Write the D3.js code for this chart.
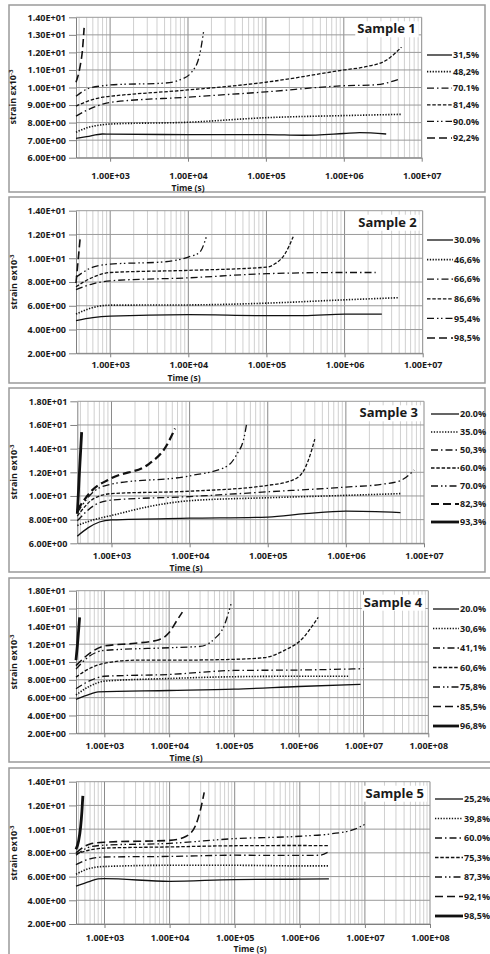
<!DOCTYPE html>
<html>
<head>
<meta charset="utf-8">
<script src="https://cdn.jsdelivr.net/npm/d3@7"></script>
<style>
  body { margin: 0; background: #fff; }
  text { font-family: "Open Sans", sans-serif; font-weight: 700; fill: #1a1a1a; }
</style>
</head>
<body>
<div id="chart"></div>
<script>
// ---- data: [time (s), strain x10^-3] ----
var xMin = 365;

var s1Labels = ["31,5%", "48,2%", "70.1%", "81,4%", "90.0%", "92,2%"];
var s1Series = [
    [[365, 7.10], [500, 7.2], [800, 7.35], [1000, 7.34], [1e4, 7.32], [1e5, 7.32], [3e5, 7.28], [1e6, 7.38], [1.6e6, 7.43], [3.5e6, 7.35]],
    [[365, 7.45], [500, 7.7], [800, 7.88], [1000, 7.92], [1e4, 8.02], [1e5, 8.28], [1e6, 8.4], [5.5e6, 8.47]],
    [[365, 8.37], [500, 8.7], [800, 9.05], [1000, 9.15], [1e4, 9.45], [1e5, 9.75], [1e6, 10.1], [2.5e6, 10.15], [5e6, 10.45]],
    [[365, 8.94], [500, 9.2], [800, 9.45], [1000, 9.5], [1e4, 9.86], [1e5, 10.3], [1e6, 11.0], [2e6, 11.2], [3.5e6, 11.55], [5.5e6, 12.3]],
    [[365, 9.5], [500, 9.9], [800, 10.1], [1000, 10.15], [5000, 10.25], [8000, 10.45], [1.1e4, 10.85], [1.4e4, 11.8], [1.6e4, 13.3]],
    [[365, 10.3], [412, 11.2], [441, 12.1], [464, 13.4]]
];
var s1YTicks = [6, 7, 8, 9, 10, 11, 12, 13, 14];
var s1XTicks = [1e3, 1e4, 1e5, 1e6, 1e7];

var s2Labels = ["30.0%", "46,6%", "66,6%", "86,6%", "95,4%", "98,5%"];
var s2Series = [
    [[365, 4.75], [600, 5.0], [1000, 5.12], [1e4, 5.25], [1e5, 5.17], [3e5, 5.17], [1e6, 5.3], [3e6, 5.3]],
    [[365, 5.3], [600, 5.85], [1000, 6.05], [1e4, 6.07], [1e5, 6.22], [1e6, 6.5], [5e6, 6.68]],
    [[365, 7.35], [600, 7.85], [1000, 8.1], [1e4, 8.35], [1e5, 8.7], [1e6, 8.8], [2.5e6, 8.8]],
    [[365, 7.6], [600, 8.4], [1000, 8.8], [1e4, 8.98], [1e5, 9.25], [1.3e5, 9.55], [1.7e5, 10.3], [2.2e5, 11.8]],
    [[365, 8.4], [600, 9.25], [1000, 9.5], [5000, 9.7], [1e4, 10.1], [1.4e4, 10.5], [1.7e4, 11.8]],
    [[365, 7.9], [392, 10.1], [414, 11.8]]
];
var s2YTicks = [2, 4, 6, 8, 10, 12, 14];
var s2XTicks = [1e3, 1e4, 1e5, 1e6, 1e7];

var s3Labels = ["20.0%", "35.0%", "50,3%", "60.0%", "70.0%", "82,3%", "93,3%"];
var s3Series = [
    [[365, 6.6], [500, 7.3], [700, 7.8], [1000, 7.98], [1e4, 8.12], [1e5, 8.22], [3e5, 8.5], [1e6, 8.72], [5e6, 8.6]],
    [[365, 7.5], [600, 8.0], [1000, 8.35], [3000, 9.1], [1e4, 9.6], [1e5, 9.85], [1e6, 10.05], [5e6, 10.2]],
    [[365, 7.9], [600, 9.2], [1000, 9.65], [1e4, 9.95], [1e5, 10.35], [1e6, 10.75], [3e6, 11.0], [5e6, 11.3], [7.5e6, 12.2]],
    [[365, 8.3], [600, 9.8], [1000, 10.2], [1e4, 10.4], [1e5, 10.9], [2e5, 11.3], [2.8e5, 12.0], [3.3e5, 13.0], [4e5, 14.8]],
    [[365, 8.6], [600, 10.4], [1000, 11.0], [1e4, 11.7], [3e4, 12.5], [4e4, 13.5], [5e4, 15.0], [5.4e4, 16.2]],
    [[365, 8.8], [550, 10.4], [1000, 11.5], [3000, 12.7], [5000, 14.2], [6500, 15.7]],
    [[365, 8.5], [372, 9.5], [385, 11.5], [400, 13.5], [415, 15.4]]
];
var s3YTicks = [6, 8, 10, 12, 14, 16, 18];
var s3XTicks = [1e3, 1e4, 1e5, 1e6, 1e7];

var s4Labels = ["20.0%", "30,6%", "41,1%", "60,6%", "75,8%", "85,5%", "96,8%"];
var s4Series = [
    [[365, 5.8], [600, 6.4], [800, 6.65], [1e4, 6.8], [1e5, 6.95], [1e6, 7.25], [9e6, 7.5]],
    [[365, 6.3], [600, 7.3], [1000, 7.85], [1e4, 8.15], [1e5, 8.35], [1e6, 8.4], [6e6, 8.4]],
    [[365, 7.0], [600, 7.9], [1000, 8.4], [1e4, 8.6], [1e5, 9.05], [1e6, 9.1], [1e7, 9.25]],
    [[365, 8.3], [600, 9.3], [1000, 9.85], [3000, 10.2], [1e4, 10.2], [1e5, 10.3], [3e5, 10.5], [6e5, 11.3], [1.2e6, 12.8], [1.6e6, 14.0], [2e6, 15.0]],
    [[365, 9.2], [600, 10.7], [1000, 11.3], [1e4, 11.6], [3e4, 11.75], [5e4, 12.6], [7e4, 14.0], [9e4, 16.5]],
    [[365, 9.6], [600, 11.0], [1000, 11.8], [3000, 12.1], [7000, 12.5], [1e4, 13.3], [1.3e4, 14.6], [1.6e4, 15.6]],
    [[365, 10.2], [385, 12.0], [400, 13.5], [415, 15.0]]
];
var s4YTicks = [2, 4, 6, 8, 10, 12, 14, 16, 18];
var s4XTicks = [1e3, 1e4, 1e5, 1e6, 1e7, 1e8];

var s5Labels = ["25,2%", "39,8%", "60.0%", "75,3%", "87,3%", "92,1%", "98,5%"];
var s5Series = [
    [[365, 5.2], [600, 5.6], [800, 5.8], [1000, 5.82], [1e4, 5.6], [1e5, 5.75], [1e6, 5.78], [2.8e6, 5.8]],
    [[365, 6.2], [600, 6.7], [1000, 6.85], [1e4, 6.95], [1e5, 6.95], [1e6, 6.9], [2.8e6, 6.9]],
    [[365, 7.0], [600, 7.5], [1000, 7.65], [1e4, 7.7], [1e5, 7.8], [1e6, 7.78], [2e6, 7.8], [2.8e6, 8.1]],
    [[365, 7.9], [600, 8.25], [1000, 8.4], [1e4, 8.5], [1e5, 8.6], [1e6, 8.62], [2.8e6, 8.6]],
    [[365, 7.8], [600, 8.5], [1000, 8.65], [1e4, 8.8], [1e5, 9.2], [1e6, 9.4], [3e6, 9.6], [7e6, 10.0], [1e7, 10.4]],
    [[365, 8.0], [600, 8.75], [1000, 8.9], [1e4, 9.05], [1.8e4, 9.4], [2.5e4, 10.3], [3e4, 11.7], [3.4e4, 13.1]],
    [[365, 8.3], [400, 9.0], [430, 10.2], [450, 11.5], [465, 12.8]]
];
var s5YTicks = [2, 4, 6, 8, 10, 12, 14];
var s5XTicks = [1e3, 1e4, 1e5, 1e6, 1e7, 1e8];

// line styles, same order in every panel
var lineStyles = [
    { dash: null, w: 1.3 },
    { dash: "1.3,1.5", w: 1.6 },
    { dash: "7,3,1.5,3", w: 1.3 },
    { dash: "3.5,1.8", w: 1.3 },
    { dash: "7,3,1.5,2.5,1.5,3", w: 1.3 },
    { dash: "8,4", w: 1.6 },
    { dash: null, w: 2.8 }
];

var svg = d3.select("#chart").append("svg")
    .attr("width", 490)
    .attr("height", 954);

// Excel-like scientific labels, e.g. 1.40E+01
function fmtE(v) {
    var e = Math.floor(Math.log10(v) + 1e-9);
    var m = v / Math.pow(10, e);
    return m.toFixed(2) + "E" + (e < 0 ? "-" : "+") + String(Math.abs(e)).padStart(2, "0");
}

function drawPanel(p, series, labels, yTicks, xTicks) {
    var x = d3.scaleLog().domain([xMin, p.xMax]).range([p.left, p.right]);
    var y = d3.scaleLinear().domain([yTicks[0], yTicks[yTicks.length - 1]]).range([p.bottom, p.top]);

    // frame
    svg.append("rect")
        .attr("x", 9).attr("y", p.y0)
        .attr("width", p.boxW).attr("height", p.y1 - p.y0)
        .attr("fill", "none").attr("stroke", "#9a9a9a").attr("stroke-width", 1.5);

    var g = svg.append("g");

    // minor vertical gridlines (2..9 of each decade)
    var minors = [];
    for (var d = 100; d < p.xMax; d *= 10) {
        for (var k = 2; k < 10; k++) {
            var v = k * d;
            if (v > xMin && v < p.xMax) minors.push(v);
        }
    }
    g.selectAll("line.minor").data(minors).enter().append("line")
        .attr("class", "minor")
        .attr("x1", d => x(d)).attr("x2", d => x(d))
        .attr("y1", p.top).attr("y2", p.bottom)
        .attr("stroke", "#c4c4c4").attr("stroke-width", 0.8);

    g.selectAll("line.majx").data(xTicks).enter().append("line")
        .attr("class", "majx")
        .attr("x1", d => x(d)).attr("x2", d => x(d))
        .attr("y1", p.top).attr("y2", p.bottom)
        .attr("stroke", "#8a8a8a").attr("stroke-width", 1);

    g.selectAll("line.majy").data(yTicks).enter().append("line")
        .attr("class", "majy")
        .attr("x1", p.left).attr("x2", p.right)
        .attr("y1", d => y(d)).attr("y2", d => y(d))
        .attr("stroke", "#9a9a9a").attr("stroke-width", 1);

    // axes
    var yAxis = g.append("g")
        .attr("transform", `translate(${p.left},0)`)
        .call(d3.axisLeft(y).tickValues(yTicks).tickFormat(fmtE).tickSize(7).tickSizeOuter(0).tickPadding(3));
    var xAxis = g.append("g")
        .attr("transform", `translate(0,${p.bottom})`)
        .call(d3.axisBottom(x).tickValues(xTicks).tickFormat(fmtE).tickSize(4).tickSizeOuter(0).tickPadding(p.xPad));
    [yAxis, xAxis].forEach(function(a) {
        a.select(".domain").attr("stroke", "#808080");
        a.selectAll(".tick line").attr("stroke", "#808080");
        a.selectAll("text").attr("font-size", 9).attr("font-family", "Open Sans").attr("fill", "#1a1a1a");
    });

    // title box
    var title = g.append("text")
        .attr("x", p.right - 6).attr("y", p.top + 16)
        .attr("text-anchor", "end")
        .attr("font-size", 13)
        .text(p.title);
    var tw = title.node().getComputedTextLength();
    g.insert("rect", () => title.node())
        .attr("x", p.right - 8 - tw).attr("y", p.top + 4)
        .attr("width", tw + 5).attr("height", 16)
        .attr("fill", "#fff");

    // curves
    var line = d3.line()
        .x(d => x(d[0]))
        .y(d => y(d[1]))
        .curve(d3.curveMonotoneX);
    series.forEach(function(s, i) {
        var st = lineStyles[i];
        g.append("path")
            .attr("d", line(s))
            .attr("fill", "none")
            .attr("stroke", "#111")
            .attr("stroke-width", st.w * (p.boldLong && i === 5 ? 1.4 : 1))
            .attr("stroke-dasharray", st.dash);
    });

    // legend
    labels.forEach(function(lab, i) {
        var st = lineStyles[i];
        var ly = p.legY + i * p.legStep;
        g.append("line")
            .attr("x1", p.legX).attr("x2", p.legX + p.legW)
            .attr("y1", ly).attr("y2", ly)
            .attr("stroke", "#111")
            .attr("stroke-width", st.w * (p.boldLong && i === 5 ? 1.4 : 1))
            .attr("stroke-dasharray", st.dash);
        g.append("text")
            .attr("x", p.legX + p.legW + 1).attr("y", ly)
            .attr("dy", "0.35em")
            .attr("font-size", 9)
            .text(lab);
    });

    // axis titles
    g.append("text")
        .attr("x", p.timeX).attr("y", p.timeY)
        .attr("text-anchor", "middle")
        .attr("font-size", 8.5)
        .text("Time (s)");

    var yt = g.append("text")
        .attr("transform", `translate(${p.ytX},${p.ytY}) rotate(-90)`)
        .attr("text-anchor", "middle")
        .attr("font-size", 9);
    yt.append("tspan").text(p.ytext);
    yt.append("tspan").attr("dy", -3).attr("font-size", 6).text("-3");
}

var panels = [
    { y0: 5, y1: 192, boxW: 476, top: 17.3, bottom: 157.7, left: 76, right: 421.7, xMax: 1e7, xPad: 11, timeX: 188, timeY: 191,
      title: "Sample 1", ytext: "strain  \u03b5x10", ytX: 16, ytY: 97, legX: 427, legW: 25, legY: 55, legStep: 16.6, boldLong: false },
    { y0: 197, y1: 383, boxW: 476, top: 210.7, bottom: 353.3, left: 76, right: 422.7, xMax: 1e7, xPad: 4.5, timeX: 184, timeY: 380.5,
      title: "Sample 2", ytext: "strain ex10", ytX: 17, ytY: 282, legX: 427, legW: 26, legY: 240, legStep: 19.6, boldLong: false },
    { y0: 388, y1: 572, boxW: 476, top: 401.3, bottom: 543.3, left: 77.3, right: 424, xMax: 1e7, xPad: 5.5, timeX: 186, timeY: 571,
      title: "Sample 3", ytext: "strain ex10", ytX: 17, ytY: 472, legX: 431, legW: 28, legY: 414, legStep: 18, boldLong: true },
    { y0: 578, y1: 762, boxW: 486, top: 590.7, bottom: 733.3, left: 76, right: 428.3, xMax: 1e8, xPad: 5.5, timeX: 186, timeY: 761,
      title: "Sample 4", ytext: "strain ex10", ytX: 17, ytY: 662, legX: 433, legW: 26, legY: 609, legStep: 19.5, boldLong: false },
    { y0: 768, y1: 958, boxW: 486, top: 781.7, bottom: 924, left: 76, right: 430, xMax: 1e8, xPad: 6.5, timeX: 250, timeY: 951.5,
      title: "Sample 5", ytext: "strain ex10", ytX: 17, ytY: 853, legX: 435, legW: 28, legY: 799, legStep: 19.5, boldLong: false }
];

drawPanel(panels[0], s1Series, s1Labels, s1YTicks, s1XTicks);
drawPanel(panels[1], s2Series, s2Labels, s2YTicks, s2XTicks);
drawPanel(panels[2], s3Series, s3Labels, s3YTicks, s3XTicks);
drawPanel(panels[3], s4Series, s4Labels, s4YTicks, s4XTicks);
drawPanel(panels[4], s5Series, s5Labels, s5YTicks, s5XTicks);
</script>
</body>
</html>
